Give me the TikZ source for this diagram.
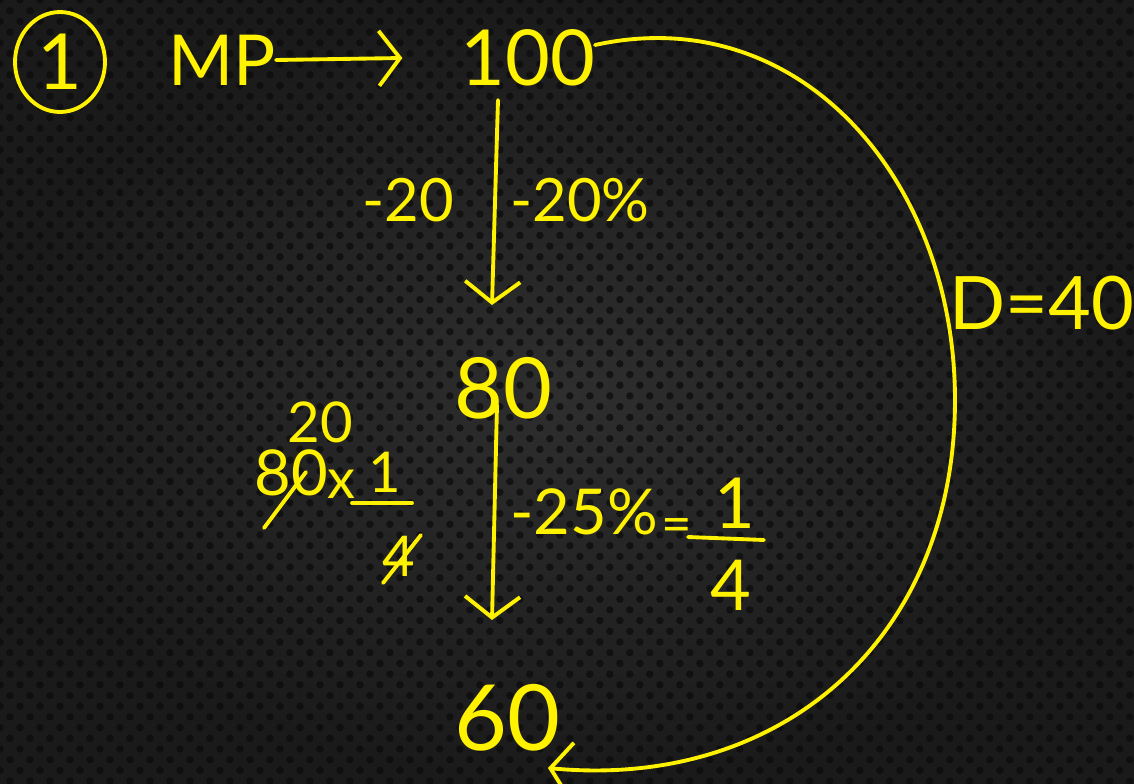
\documentclass[tikz,border=0pt]{standalone}
\usepackage{fontspec}
\setmainfont{Lato}
\usetikzlibrary{arrows.meta,calc}
\definecolor{marker}{HTML}{FFF200}
\definecolor{boardin}{HTML}{2E2E2E}
\definecolor{boardout}{HTML}{1A1A1A}
\definecolor{boarddot}{HTML}{0C0C0C}
\newcommand{\hand}[1]{\fontsize{#1}{#1}\selectfont}
\tikzset{
  ink/.style={text=marker, inner sep=0pt},
  stroke/.style={draw=marker, line width=2.2pt, line cap=round, line join=round},
  barb/.style={stroke, -{Straight Barb[length=0.42cm, width=1.1cm, line width=2.2pt]}},
  dotrow/.style={draw=boarddot, opacity=0.75, line width=0.15cm, line cap=round, dash pattern=on 0pt off 0.4cm},
}
\begin{document}
\begin{tikzpicture}[x=0.02cm, y=-0.02cm]
		\useasboundingbox (0,0) rectangle (1134,784);
		% board
		\shade[inner color=boardin, outer color=boardout] (0,0) rectangle (1134,784);
		\begin{scope}
		\clip (0,0) rectangle (1134,784);
		\foreach \j in {0,...,74}
		\draw[dotrow] ({-10*mod(\j,2)},{\j*10.7}) -- (1150,{\j*10.7});
		\end{scope}
		% numbers
		\node[ink, font=\hand{44}] (one) at (60,62) {1};
		\draw[stroke] (one) ellipse [x radius=0.9cm, y radius=1cm];
		\node[ink, font=\hand{40}] (mp) at (222,60) {MP};
		\node[ink, font=\hand{44}] (n100) at (528,58) {100};
		\node[ink, font=\hand{48}] (n80) at (503,388) {80};
		\node[ink, font=\hand{52}] (n60) at (507,718) {60};
		\foreach \x\y\t in {498/100/t1,492/305/h1,497/405/t2,492/620/h2,595/45/c0,548/768/c1}
		\coordinate (\t) at (\x,\y);
		% arrows
		\draw[barb] (mp.east) -- ($(n100.west)+(-58,0)$);
		\draw[barb] (t1) -- (h1);
		\draw[barb] (t2) -- (h2);
		\draw[barb] (c0) .. controls (800,0) and (955,180) .. (955,400)
			.. controls (955,640) and (780,790) .. (c1);
		% labels
		\node[ink, font=\hand{34}] (d20) at (408,200) {-20};
		\node[ink, font=\hand{34}] (p20) at (580,200) {-20\%};
		\node[ink, font=\hand{36}] (p25) at (584,512) {-25\%};
		\node[ink, font=\hand{30}] (eq) at (677,531) {=};
		\draw[stroke] (688,537) -- (764,540);
		\node[ink, font=\hand{40}] (n1b) at (735,503) {1};
		\node[ink, font=\hand{40}] (n4b) at (731,585) {4};
		\node[ink, font=\hand{42}] (dis) at (1042,303) {D=40};
		% side work
		\node[ink, font=\hand{32}] (s20) at (320,422) {20};
		\node[ink, font=\hand{36}] (s80) at (291,473) {80};
		\draw[stroke] (264,528) -- (306,472);
		\node[ink, font=\hand{32}] (times) at (341,484) {x};
		\draw[stroke] (352,503) -- (412,503);
		\node[ink, font=\hand{32}] (n1a) at (385,472) {1};
		\node[ink, font=\hand{32}] (n4a) at (399,556) {4};
		\draw[stroke] (383,583) -- (421,535);
\end{tikzpicture}
\end{document}
